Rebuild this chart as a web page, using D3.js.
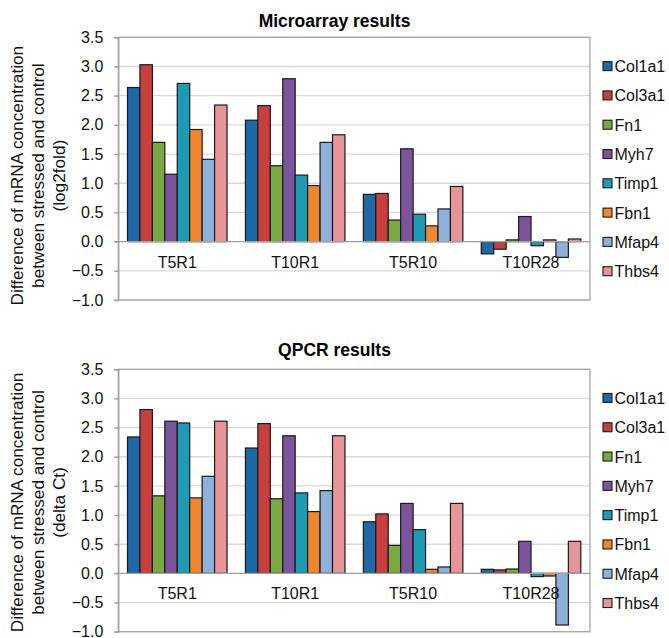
<!DOCTYPE html>
<html><head><meta charset="utf-8">
<script src="https://cdn.jsdelivr.net/npm/d3@7"></script>
<style>
html,body{margin:0;padding:0;background:#fff;}
svg{display:block;font-family:Arial,"Liberation Sans",sans-serif;}
</style></head>
<body>
<svg id="chart" width="669" height="638"></svg>
<script>
const categories = ["T5R1", "T10R1", "T5R10", "T10R28"];
const genes = ["Col1a1", "Col3a1", "Fn1", "Myh7", "Timp1", "Fbn1", "Mfap4", "Thbs4"];
const colors = ["#1c69a6", "#c8403e", "#7aa843", "#7a559b", "#1d9bb4", "#f0872f", "#8eb0da", "#e69698"];
const yTicks = [-1.0, -0.5, 0.0, 0.5, 1.0, 1.5, 2.0, 2.5, 3.0, 3.5];

// rows follow genes, columns follow categories
const microarrayValues = [
  [2.64, 2.08, 0.81, -0.21],
  [3.03, 2.33, 0.825, -0.13],
  [1.70, 1.30, 0.37, 0.03],
  [1.155, 2.79, 1.59, 0.43],
  [2.71, 1.14, 0.47, -0.07],
  [1.92, 0.96, 0.27, 0.03],
  [1.41, 1.70, 0.56, -0.27],
  [2.34, 1.83, 0.945, 0.045]
];
const qpcrValues = [
  [2.34, 2.15, 0.885, 0.07],
  [2.81, 2.57, 1.02, 0.06],
  [1.33, 1.28, 0.48, 0.075],
  [2.61, 2.36, 1.20, 0.55],
  [2.58, 1.38, 0.75, -0.055],
  [1.295, 1.06, 0.07, -0.045],
  [1.665, 1.42, 0.11, -0.885],
  [2.61, 2.36, 1.20, 0.55]
];

const svg = d3.select("#chart");

function drawPanel(cfg) {
  const g = svg.append("g");
  const left = 118.3, right = 590;
  const y = d3.scaleLinear().domain([-1, 3.5]).range([cfg.bottom, cfg.top]);
  const x0 = d3.scaleBand().domain(categories).range([left, right]).padding(0);
  const pad = 9.2;
  const x1 = d3.scaleBand().domain(genes).range([pad, x0.bandwidth() - pad]).padding(0);

  // gridlines
  g.append("g").selectAll("line").data(yTicks.filter(t => t !== 0)).join("line")
    .attr("x1", left - 4).attr("x2", right)
    .attr("y1", d => y(d)).attr("y2", d => y(d))
    .attr("stroke", "#d9d9d9").attr("stroke-width", 1.3);

  // plot border
  g.append("rect").attr("x", left).attr("y", y(3.5)).attr("width", right - left)
    .attr("height", y(-1) - y(3.5)).attr("fill", "none")
    .attr("stroke", "#a6a6a6").attr("stroke-width", 1.3);

  // y axis
  const yAxis = d3.axisLeft(y).tickValues(yTicks).tickFormat(d3.format(".1f")).tickSize(4).tickPadding(11);
  const ya = g.append("g").attr("transform", `translate(${left},0)`).call(yAxis);
  ya.select(".domain").attr("stroke", "#a0a0a0").attr("stroke-width", 1.3);
  ya.selectAll(".tick line").attr("stroke", "#a0a0a0").attr("stroke-width", 1.3);
  ya.selectAll(".tick text").attr("font-size", 16).attr("fill", "#111")
    .attr("font-family", "Arial, 'Liberation Sans', sans-serif");

  // bars
  const groups = g.append("g").selectAll("g").data(categories).join("g")
    .attr("transform", d => `translate(${x0(d)},0)`);
  groups.selectAll("rect").data((c, ci) => genes.map((gn, gi) => ({gene: gn, gi: gi, v: cfg.values[gi][ci]})))
    .join("rect")
    .attr("x", d => x1(d.gene))
    .attr("width", x1.bandwidth())
    .attr("y", d => y(Math.max(0, d.v)))
    .attr("height", d => Math.abs(y(d.v) - y(0)))
    .attr("fill", d => colors[d.gi])
    .attr("stroke", "#1a1a1a").attr("stroke-width", 1.2);

  // zero line
  g.append("line").attr("x1", left - 4).attr("x2", right).attr("y1", y(0)).attr("y2", y(0))
    .attr("stroke", "#a0a0a0").attr("stroke-width", 1.3);

  // category labels
  g.append("g").selectAll("text").data(categories).join("text")
    .attr("x", d => x0(d) + x0.bandwidth() / 2)
    .attr("y", y(0) + 26)
    .attr("text-anchor", "middle").attr("font-size", 16).attr("fill", "#111")
    .text(d => d);

  // title
  g.append("text").attr("x", 334.5).attr("y", cfg.titleY).attr("text-anchor", "middle")
    .attr("font-size", 17.5).attr("font-weight", "bold").attr("fill", "#000").text(cfg.title);

  // y-axis title
  const cy = (cfg.top + cfg.bottom) / 2 + cfg.labelShift;
  const yt = g.append("text").attr("transform", `translate(0,${cy}) rotate(-90)`)
    .attr("text-anchor", "middle").attr("font-size", 17.2).attr("fill", "#111");
  cfg.yLabel.forEach((line, i) => {
    yt.append("tspan").attr("x", 0).attr("y", 23 + i * 21).text(line);
  });

  // legend
  const lc = (cfg.top + cfg.bottom) / 2;
  const step = 29.3;
  const leg = g.append("g").selectAll("g").data(genes).join("g")
    .attr("transform", (d, i) => `translate(603,${lc + (i - 3.5) * step})`);
  leg.append("rect").attr("x", 0).attr("y", -4.5).attr("width", 9).attr("height", 9)
    .attr("fill", (d, i) => colors[i]).attr("stroke", "#1a1a1a").attr("stroke-width", 1.1);
  leg.append("text").attr("x", 11.5).attr("y", 6).attr("font-size", 16).attr("fill", "#111").text(d => d);
}

drawPanel({
  title: "Microarray results", titleY: 27, top: 37.3, bottom: 300, labelShift: 7,
  values: microarrayValues,
  yLabel: ["Difference of mRNA concentration", "between stressed and control", "(log2fold)"]
});
drawPanel({
  title: "QPCR results", titleY: 355.5, top: 369.3, bottom: 631.7, labelShift: 2,
  values: qpcrValues,
  yLabel: ["Difference of mRNA concentration", "between stressed and control", "(delta Ct)"]
});
</script>
</body></html>
